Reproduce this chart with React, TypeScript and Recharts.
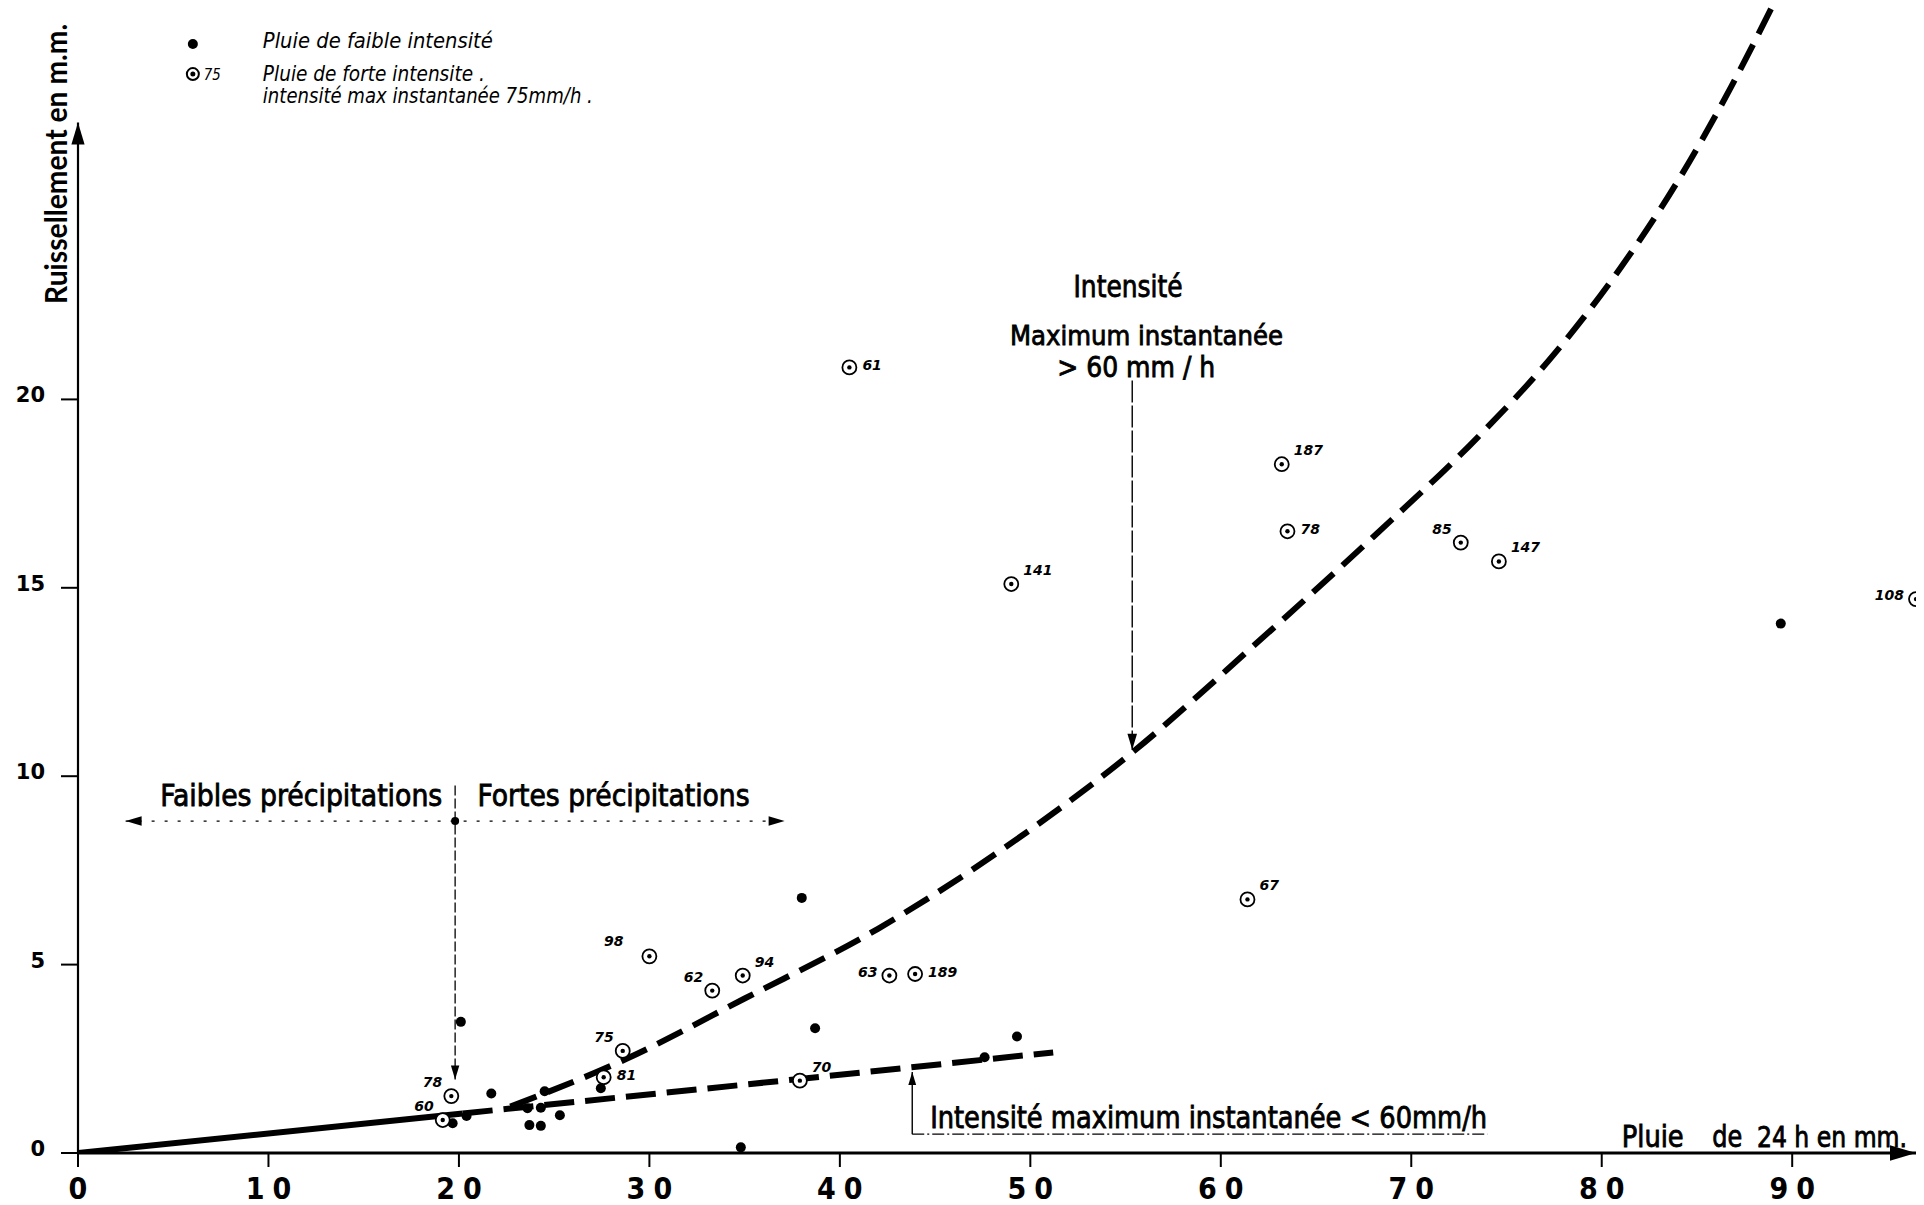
import {
  ComposedChart,
  Line,
  Scatter,
  XAxis,
  YAxis,
  ReferenceLine,
  ReferenceDot,
} from "recharts";

// Pluie de 24 h (mm) / ruissellement (mm)

// Pluies de forte intensité, with the maximum instantaneous intensity (mm/h)
const strongRain = [40.5, 63.2, 63.5, 72.6, 74.6, 49.0, 96.5, 61.4, 30.0, 33.3, 34.9, 42.6, 43.95, 28.6, 27.6, 37.9, 19.6, 19.15];
const strongRunoff = [20.85, 18.28, 16.5, 16.2, 15.7, 15.1, 14.7, 6.73, 5.22, 4.31, 4.71, 4.71, 4.75, 2.71, 2.01, 1.92, 1.51, 0.875];
const strongPeak = [61, 187, 78, 85, 147, 141, 108, 67, 98, 62, 94, 63, 189, 75, 81, 70, 78, 60];

// Pluies de faible intensité
const weakRain = [20.1, 19.67, 20.4, 21.7, 24.5, 23.6, 24.3, 25.3, 23.7, 24.3, 27.45, 34.8, 38.7, 38.0, 49.3, 47.6, 89.4];
const weakRunoff = [3.48, 0.79, 0.98, 1.58, 1.64, 1.19, 1.2, 1.0, 0.74, 0.72, 1.72, 0.15, 3.31, 6.77, 3.09, 2.54, 14.05];

// curve for intensity > 60 mm/h
const highCurveRain = [22.7, 28.8, 35.0, 42.0, 48.5, 55.4, 61.7, 68.0, 73.5, 77.5, 81.0, 84.0, 86.8, 89.1];
const highCurveRunoff = [1.23, 2.5, 4.1, 5.95, 8.05, 10.65, 13.45, 16.35, 19.0, 21.2, 23.5, 25.8, 28.3, 30.58];

// line for intensity < 60 mm/h (solid part, then dashed)
const lowSolidRain = [0, 20.2];
const lowSolidRunoff = [0, 1.05];
const lowDashRain = [20.2, 38.0, 51.2];
const lowDashRunoff = [1.05, 1.97, 2.67];

const xTicks = [0, 10, 20, 30, 40, 50, 60, 70, 80, 90];
const yTicks = [0, 5, 10, 15, 20];

// where each intensity number sits around its circle
const strongLabelSide = ["r", "ur", "r", "ul", "ur", "ur", "l", "ur", "ulf", "ul", "ur", "l", "r", "ul", "r", "ur", "ul", "ul"];

const W = 1924;
const H = 1205;
const X_MAX = 96.5;
const Y_MAX = 30.6;

const narrow = '"Liberation Sans Narrow", "DejaVu Sans Condensed", "Arial Narrow", sans-serif';
const geo = 'Lato, "DejaVu Sans", sans-serif';
const hand = '"DejaVu Sans", sans-serif';

const pairs = (xs: number[], ys: number[]) => xs.map((x, i) => ({ x, y: ys[i] }));

const strongPoints = strongRain.map((x, i) => ({ x, y: strongRunoff[i], peak: strongPeak[i], side: strongLabelSide[i] }));
const weakPoints = pairs(weakRain, weakRunoff);
const highCurve = pairs(highCurveRain, highCurveRunoff);
const lowSolid = pairs(lowSolidRain, lowSolidRunoff);
const lowDash = pairs(lowDashRain, lowDashRunoff);

const sideOffset: Record<string, { dx: number; dy: number; anchor: "start" | "end" }> = {
  r: { dx: 13, dy: 3, anchor: "start" },
  ur: { dx: 12, dy: -9, anchor: "start" },
  ul: { dx: -9, dy: -9, anchor: "end" },
  ulf: { dx: -26, dy: -10, anchor: "end" },
  l: { dx: -12, dy: 1, anchor: "end" },
};

const StrongDot = (p: any) => {
  const { cx, cy, payload } = p;
  const o = sideOffset[payload.side];
  return (
    <g>
      <circle cx={cx} cy={cy} r={7} fill="#fff" stroke="#000" strokeWidth={1.8} />
      <circle cx={cx} cy={cy} r={2.2} fill="#000" />
      <text
        x={cx + o.dx}
        y={cy + o.dy}
        textAnchor={o.anchor}
        fontFamily={hand}
        fontStyle="italic"
        fontWeight="bold"
        fontSize={14}
        fill="#000"
      >
        {payload.peak}
      </text>
    </g>
  );
};

const WeakDot = (p: any) => <circle cx={p.cx} cy={p.cy} r={5} fill="#000" />;

const head = (x: number, y: number, ang: number, len: number) => {
  const hw = len * 0.3;
  const bx = x - len * Math.cos(ang);
  const by = y - len * Math.sin(ang);
  const nx = -Math.sin(ang) * hw;
  const ny = Math.cos(ang) * hw;
  return `${x},${y} ${bx + nx},${by + ny} ${bx - nx},${by - ny}`;
};

const arrowLine =
  (o: { width: number; dash?: string; start?: boolean; end?: boolean; len?: number }) =>
  (p: any) => {
    const { x1, y1, x2, y2 } = p;
    const a = Math.atan2(y2 - y1, x2 - x1);
    const len = o.len ?? 16;
    return (
      <g>
        <line x1={x1} y1={y1} x2={x2} y2={y2} stroke="#000" strokeWidth={o.width} strokeDasharray={o.dash} />
        {o.end && <polygon points={head(x2, y2, a, len)} fill="#000" />}
        {o.start && <polygon points={head(x1, y1, a + Math.PI, len)} fill="#000" />}
      </g>
    );
  };

const label =
  (
    content: string,
    o: {
      size: number;
      length: number;
      family?: string;
      weight?: string;
      outline?: number;
      anchor?: "start" | "middle" | "end";
      rotate?: boolean;
    }
  ) =>
  (p: any) => (
    <text
      x={p.cx}
      y={p.cy}
      transform={o.rotate ? `rotate(-90 ${p.cx} ${p.cy})` : undefined}
      textAnchor={o.anchor ?? "start"}
      fontFamily={o.family ?? narrow}
      fontWeight={o.weight ?? "normal"}
      fontSize={o.size}
      textLength={o.length}
      lengthAdjust="spacingAndGlyphs"
      fill="#000"
      stroke="#000"
      strokeWidth={o.outline ?? 0.8}
      style={{ whiteSpace: "pre" }}
    >
      {content}
    </text>
  );

const LegendBlock = (p: any) => {
  const { cx, cy } = p;
  const t = { fontFamily: hand, fontStyle: "italic", fontSize: 21, fill: "#000" } as const;
  return (
    <g>
      <circle cx={cx} cy={cy} r={5} fill="#000" />
      <text x={cx + 70} y={cy + 4} {...t} textLength={230} lengthAdjust="spacingAndGlyphs">
        Pluie de faible intensité
      </text>
      <circle cx={cx} cy={cy + 30} r={6} fill="#fff" stroke="#000" strokeWidth={2} />
      <circle cx={cx} cy={cy + 30} r={2.5} fill="#000" />
      <text x={cx + 11} y={cy + 36} {...t} fontSize={15} textLength={17} lengthAdjust="spacingAndGlyphs">
        75
      </text>
      <text x={cx + 70} y={cy + 37} {...t} textLength={222} lengthAdjust="spacingAndGlyphs">
        Pluie de forte intensite .
      </text>
      <text x={cx + 70} y={cy + 59} {...t} textLength={330} lengthAdjust="spacingAndGlyphs">
        intensité max instantanée 75mm/h .
      </text>
    </g>
  );
};

const XTick = (p: any) => (
  <text
    x={p.x + 4}
    y={p.y + 32}
    textAnchor="middle"
    fontFamily={narrow}
    fontWeight="bold"
    fontSize={30}
    letterSpacing={8}
    fill="#000"
  >
    {p.payload.value}
  </text>
);

const YTick = (p: any) => (
  <text x={p.x - 16} y={p.y + 3} textAnchor="end" fontFamily={hand} fontWeight="bold" fontSize={21} fill="#000">
    {p.payload.value}
  </text>
);

export default function App() {
  return (
    <div style={{ position: "absolute", left: 0, top: 0, width: W, height: H, background: "#fff" }}>
      <ComposedChart width={W} height={H} margin={{ top: 0, right: 8, bottom: 0, left: 0 }}>
        <XAxis
          type="number"
          dataKey="x"
          domain={[0, X_MAX]}
          ticks={xTicks}
          allowDataOverflow
          axisLine={false}
          tickLine={{ stroke: "#000", strokeWidth: 2 }}
          tickSize={14}
          tickMargin={0}
          height={52}
          tick={XTick}
          interval={0}
        />
        <YAxis
          type="number"
          dataKey="y"
          domain={[0, Y_MAX]}
          ticks={yTicks}
          allowDataOverflow
          axisLine={false}
          tickLine={{ stroke: "#000", strokeWidth: 2 }}
          tickSize={17}
          tickMargin={0}
          width={78}
          tick={YTick}
          interval={0}
        />

        {/* axes with arrows */}
        <ReferenceLine segment={[{ x: 0, y: 0 }, { x: X_MAX, y: 0 }]} shape={arrowLine({ width: 3, end: true, len: 26 })} />
        <ReferenceLine segment={[{ x: 0, y: 0 }, { x: 0, y: 27.35 }]} shape={arrowLine({ width: 2.2, end: true, len: 22 })} />

        {/* Faibles / Fortes précipitations divider */}
        <ReferenceLine
          segment={[{ x: 2.5, y: 8.81 }, { x: 37.1, y: 8.81 }]}
          shape={arrowLine({ width: 1.2, dash: "3 10", start: true, end: true, len: 16 })}
        />
        <ReferenceLine
          segment={[{ x: 19.8, y: 9.75 }, { x: 19.8, y: 1.95 }]}
          shape={arrowLine({ width: 1.3, dash: "10 3", end: true, len: 14 })}
        />
        <ReferenceDot x={19.8} y={8.81} shape={(p: any) => <circle cx={p.cx} cy={p.cy} r={4} fill="#000" />} />

        {/* pointer to the > 60 mm/h curve */}
        <ReferenceLine
          segment={[{ x: 55.35, y: 20.5 }, { x: 55.35, y: 10.7 }]}
          shape={arrowLine({ width: 1.4, dash: "22 3", end: true, len: 16 })}
        />

        {/* bracket to the < 60 mm/h line */}
        <ReferenceLine
          segment={[{ x: 43.8, y: 0.5 }, { x: 43.8, y: 2.15 }]}
          shape={arrowLine({ width: 1.4, end: true, len: 13 })}
        />
        <ReferenceLine
          segment={[{ x: 43.8, y: 0.5 }, { x: 74.0, y: 0.5 }]}
          shape={arrowLine({ width: 1.4, dash: "12 3 2 3" })}
        />

        <Line
          data={lowSolid}
          dataKey="y"
          type="linear"
          stroke="#000"
          strokeWidth={6}
          dot={false}
          activeDot={false}
          isAnimationActive={false}
        />
        <Line
          data={lowDash}
          dataKey="y"
          type="linear"
          stroke="#000"
          strokeWidth={6}
          strokeDasharray="30 11"
          dot={false}
          activeDot={false}
          isAnimationActive={false}
        />
        <Line
          data={highCurve}
          dataKey="y"
          type="monotone"
          stroke="#000"
          strokeWidth={6}
          strokeDasharray="28 12"
          dot={false}
          activeDot={false}
          isAnimationActive={false}
        />

        <Scatter data={weakPoints} dataKey="y" shape={WeakDot} isAnimationActive={false} />
        <Scatter data={strongPoints} dataKey="y" shape={StrongDot} isAnimationActive={false} />

        {/* texts */}
        <ReferenceDot x={6.03} y={29.43} ifOverflow="visible" shape={LegendBlock} />
        <ReferenceDot
          x={-0.58}
          y={26.25}
          ifOverflow="visible"
          shape={label("Ruissellement en m.m.", {
            size: 30,
            length: 280,
            family: geo,
            weight: "bold",
            outline: 0,
            anchor: "middle",
            rotate: true,
          })}
        />
        <ReferenceDot x={55.13} y={22.72} shape={label("Intensité", { size: 30, length: 109, anchor: "middle" })} />
        <ReferenceDot x={56.1} y={21.44} shape={label("Maximum instantanée", { size: 27, length: 273, anchor: "middle" })} />
        <ReferenceDot x={55.56} y={20.6} shape={label("> 60 mm / h", { size: 28, length: 158, anchor: "middle" })} />
        <ReferenceDot x={4.32} y={9.21} shape={label("Faibles précipitations", { size: 30, length: 282 })} />
        <ReferenceDot x={20.98} y={9.21} shape={label("Fortes précipitations", { size: 30, length: 272 })} />
        <ReferenceDot
          x={44.74}
          y={0.66}
          shape={label("Intensité maximum instantanée < 60mm/h", { size: 30, length: 557 })}
        />
        {/* x-axis title, in three pieces as lettered */}
        <ReferenceDot x={81.05} y={0.16} shape={label("Pluie", { size: 30, length: 62 })} />
        <ReferenceDot x={85.8} y={0.16} shape={label("de", { size: 30, length: 30 })} />
        <ReferenceDot x={88.15} y={0.16} shape={label("24 h en mm.", { size: 29, length: 150 })} />
      </ComposedChart>
    </div>
  );
}
